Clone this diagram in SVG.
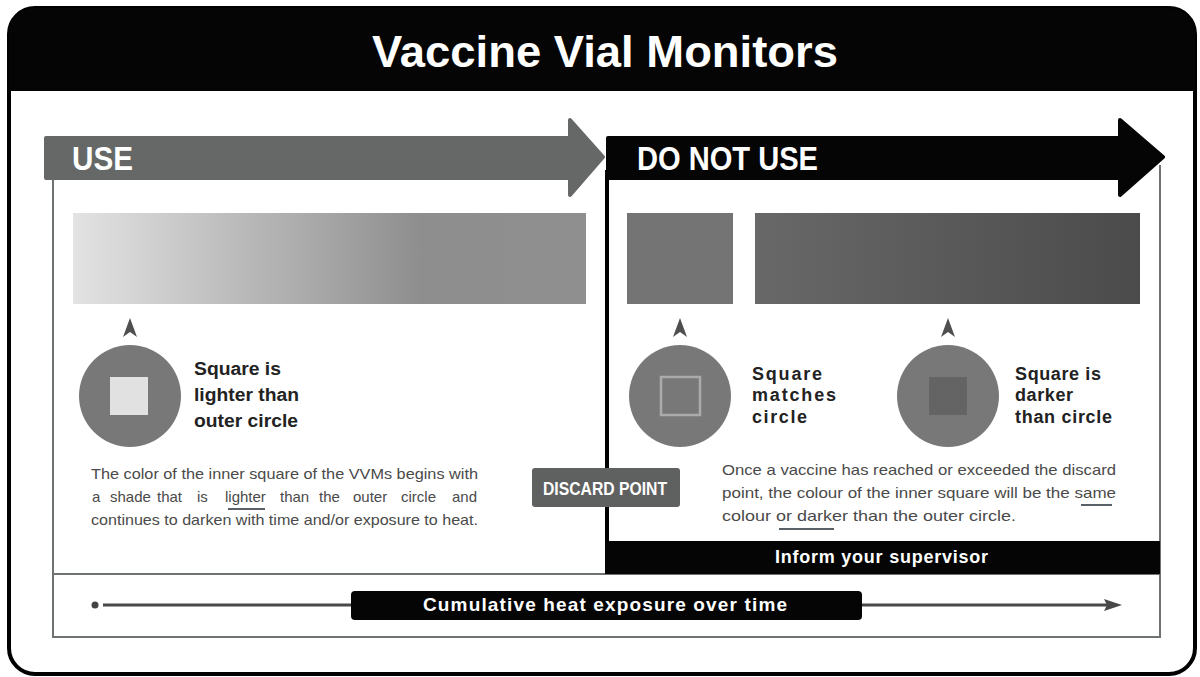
<svg xmlns="http://www.w3.org/2000/svg" width="1200" height="677" viewBox="0 0 1200 677">
<style>
.t{font-family:"Liberation Sans Narrow","Liberation Sans",Arial,sans-serif}
.w{fill:#fff}
.lbl{font-family:"Liberation Sans","Arial",sans-serif;font-weight:bold;fill:#222}
.para{font-family:"Liberation Sans Narrow","Liberation Sans",Arial,sans-serif;font-size:15px;fill:#4a4a4a}
.gray{stroke:#6f7272;stroke-width:2;fill:none}
.circ{fill:#787878}
.chev{fill:#4f4f4f}
.ul{stroke:#5a6068;stroke-width:2}
</style>
<defs>
<linearGradient id="gUse" x1="0" y1="0" x2="1" y2="0">
<stop offset="0" stop-color="#e3e3e3"/>
<stop offset="0.68" stop-color="#8e8e8e"/>
<stop offset="1" stop-color="#8f8f8f"/>
</linearGradient>
<linearGradient id="gBad" x1="0" y1="0" x2="1" y2="0">
<stop offset="0" stop-color="#686868"/>
<stop offset="1" stop-color="#4b4b4b"/>
</linearGradient>
</defs>

<g id="frame">
<rect x="9" y="8" width="1186" height="666" rx="26" fill="#fff" stroke="#000" stroke-width="4"/>
<path d="M9,91 V34 A26,26 0 0 1 35,8 H1169 A26,26 0 0 1 1195,34 V91 Z" fill="#050505"/>
<text x="372" y="67" style="font-family:'Liberation Sans',Arial,sans-serif" fill="#fff" font-size="45" font-weight="bold" textLength="466" lengthAdjust="spacingAndGlyphs">Vaccine Vial Monitors</text>
</g>

<g id="boxes">
<path class="gray" d="M53,180 V637 H1160 V165"/>
<line class="gray" x1="53" y1="574" x2="1160" y2="574"/>
<line x1="607" y1="170" x2="607" y2="574" stroke="#000" stroke-width="4"/>
</g>

<g id="use-arrow">
<polygon points="46,138 570,138 570,120 603,157 570,195 570,178 46,178" fill="#666867" stroke="#666867" stroke-width="4" stroke-linejoin="round"/>
<text x="72" y="170" class="t w" font-size="33" font-weight="bold" textLength="61" lengthAdjust="spacingAndGlyphs">USE</text>
</g>

<g id="donotuse-arrow">
<polygon points="608,138 1120,138 1120,120 1163,157 1120,195 1120,178 608,178" fill="#050505" stroke="#050505" stroke-width="4" stroke-linejoin="round"/>
<text x="637" y="170" class="t w" font-size="33" font-weight="bold" textLength="181" lengthAdjust="spacingAndGlyphs">DO NOT USE</text>
</g>

<g id="use-gradient">
<rect x="73" y="213" width="513" height="91" fill="url(#gUse)"/>
</g>
<g id="match-swatch">
<rect x="627" y="213" width="106" height="91" fill="#747474"/>
</g>
<g id="dark-gradient">
<rect x="755" y="213" width="385" height="91" fill="url(#gBad)"/>
</g>

<g id="vvm-lighter">
<path class="chev" d="M130,318 L137,337 L130,332 L123,337 Z"/>
<circle class="circ" cx="130" cy="396" r="51"/>
<rect x="110" y="377" width="38" height="38" fill="#e1e1e1"/>
<text class="lbl" font-size="18" x="194" y="375" textLength="87" lengthAdjust="spacingAndGlyphs">Square is</text>
<text class="lbl" font-size="18" x="194" y="401" textLength="105" lengthAdjust="spacingAndGlyphs">lighter than</text>
<text class="lbl" font-size="18" x="194" y="427" textLength="104" lengthAdjust="spacingAndGlyphs">outer circle</text>
</g>

<g id="vvm-matches">
<path class="chev" d="M680,318 L687,337 L680,332 L673,337 Z"/>
<circle class="circ" cx="680" cy="396" r="51"/>
<rect x="661" y="377" width="39" height="38" fill="#787878" stroke="#ababab" stroke-width="2.5"/>
<text class="lbl" font-size="18" x="752" y="380" textLength="70" lengthAdjust="spacing">Square</text>
<text class="lbl" font-size="18" x="752" y="401" textLength="84" lengthAdjust="spacing">matches</text>
<text class="lbl" font-size="18" x="752" y="423" textLength="55" lengthAdjust="spacing">circle</text>
</g>

<g id="vvm-darker">
<path class="chev" d="M948,318 L955,337 L948,332 L941,337 Z"/>
<circle class="circ" cx="948" cy="396" r="51"/>
<rect x="929" y="377" width="38" height="38" fill="#646464"/>
<text class="lbl" font-size="18" x="1015" y="380" textLength="86" lengthAdjust="spacing">Square is</text>
<text class="lbl" font-size="18" x="1015" y="401" textLength="58" lengthAdjust="spacing">darker</text>
<text class="lbl" font-size="18" x="1015" y="423" textLength="97" lengthAdjust="spacing">than circle</text>
</g>

<g id="use-text">
<text class="para" x="91" y="479" textLength="387" lengthAdjust="spacingAndGlyphs">The color of the inner square of the VVMs begins with</text>
<text class="para" y="502"><tspan x="92">a</tspan><tspan x="110">shade</tspan><tspan x="157">that</tspan><tspan x="197">is</tspan><tspan x="225">lighter</tspan><tspan x="280">than</tspan><tspan x="319">the</tspan><tspan x="353">outer</tspan><tspan x="401">circle</tspan><tspan x="452">and</tspan></text>
<text class="para" x="91" y="525" textLength="387" lengthAdjust="spacingAndGlyphs">continues to darken with time and/or exposure to heat.</text>
<line class="ul" x1="228" y1="509" x2="265" y2="509"/>
</g>

<g id="discard-point">
<rect x="532" y="468" width="148" height="39" rx="3" fill="#5f6060"/>
<text x="543" y="495" class="t w" font-size="19" font-weight="bold" textLength="124" lengthAdjust="spacingAndGlyphs">DISCARD POINT</text>
</g>

<g id="donotuse-text">
<text class="para" x="722" y="475" textLength="394" lengthAdjust="spacingAndGlyphs">Once a vaccine has reached or exceeded the discard</text>
<text class="para" x="722" y="498" textLength="394" lengthAdjust="spacingAndGlyphs">point, the colour of the inner square will be the same</text>
<text class="para" x="722" y="521" textLength="294" lengthAdjust="spacingAndGlyphs">colour or darker than the outer circle.</text>
<line class="ul" x1="1081" y1="505" x2="1112" y2="505"/>
<line class="ul" x1="779" y1="529" x2="834" y2="529"/>
</g>

<g id="inform-bar">
<rect x="605" y="541" width="555" height="33" fill="#050505"/>
<text x="775" y="563" font-family="Liberation Sans,Arial,sans-serif" font-size="18" font-weight="bold" fill="#fff" textLength="213" lengthAdjust="spacing">Inform your supervisor</text>
</g>

<g id="connectors">
<circle cx="95" cy="605" r="3.5" fill="#444"/>
<line x1="103" y1="605" x2="1108" y2="605" stroke="#484848" stroke-width="3"/>
<path d="M1104,599 L1122,605 L1104,611 L1107,605 Z" fill="#484848"/>
</g>

<g id="timeline-label">
<rect x="351" y="591" width="511" height="29" rx="4" fill="#050505"/>
<text x="423" y="611" font-family="Liberation Sans,Arial,sans-serif" font-size="19" font-weight="bold" fill="#fff" textLength="364" lengthAdjust="spacing">Cumulative heat exposure over time</text>
</g>
</svg>
